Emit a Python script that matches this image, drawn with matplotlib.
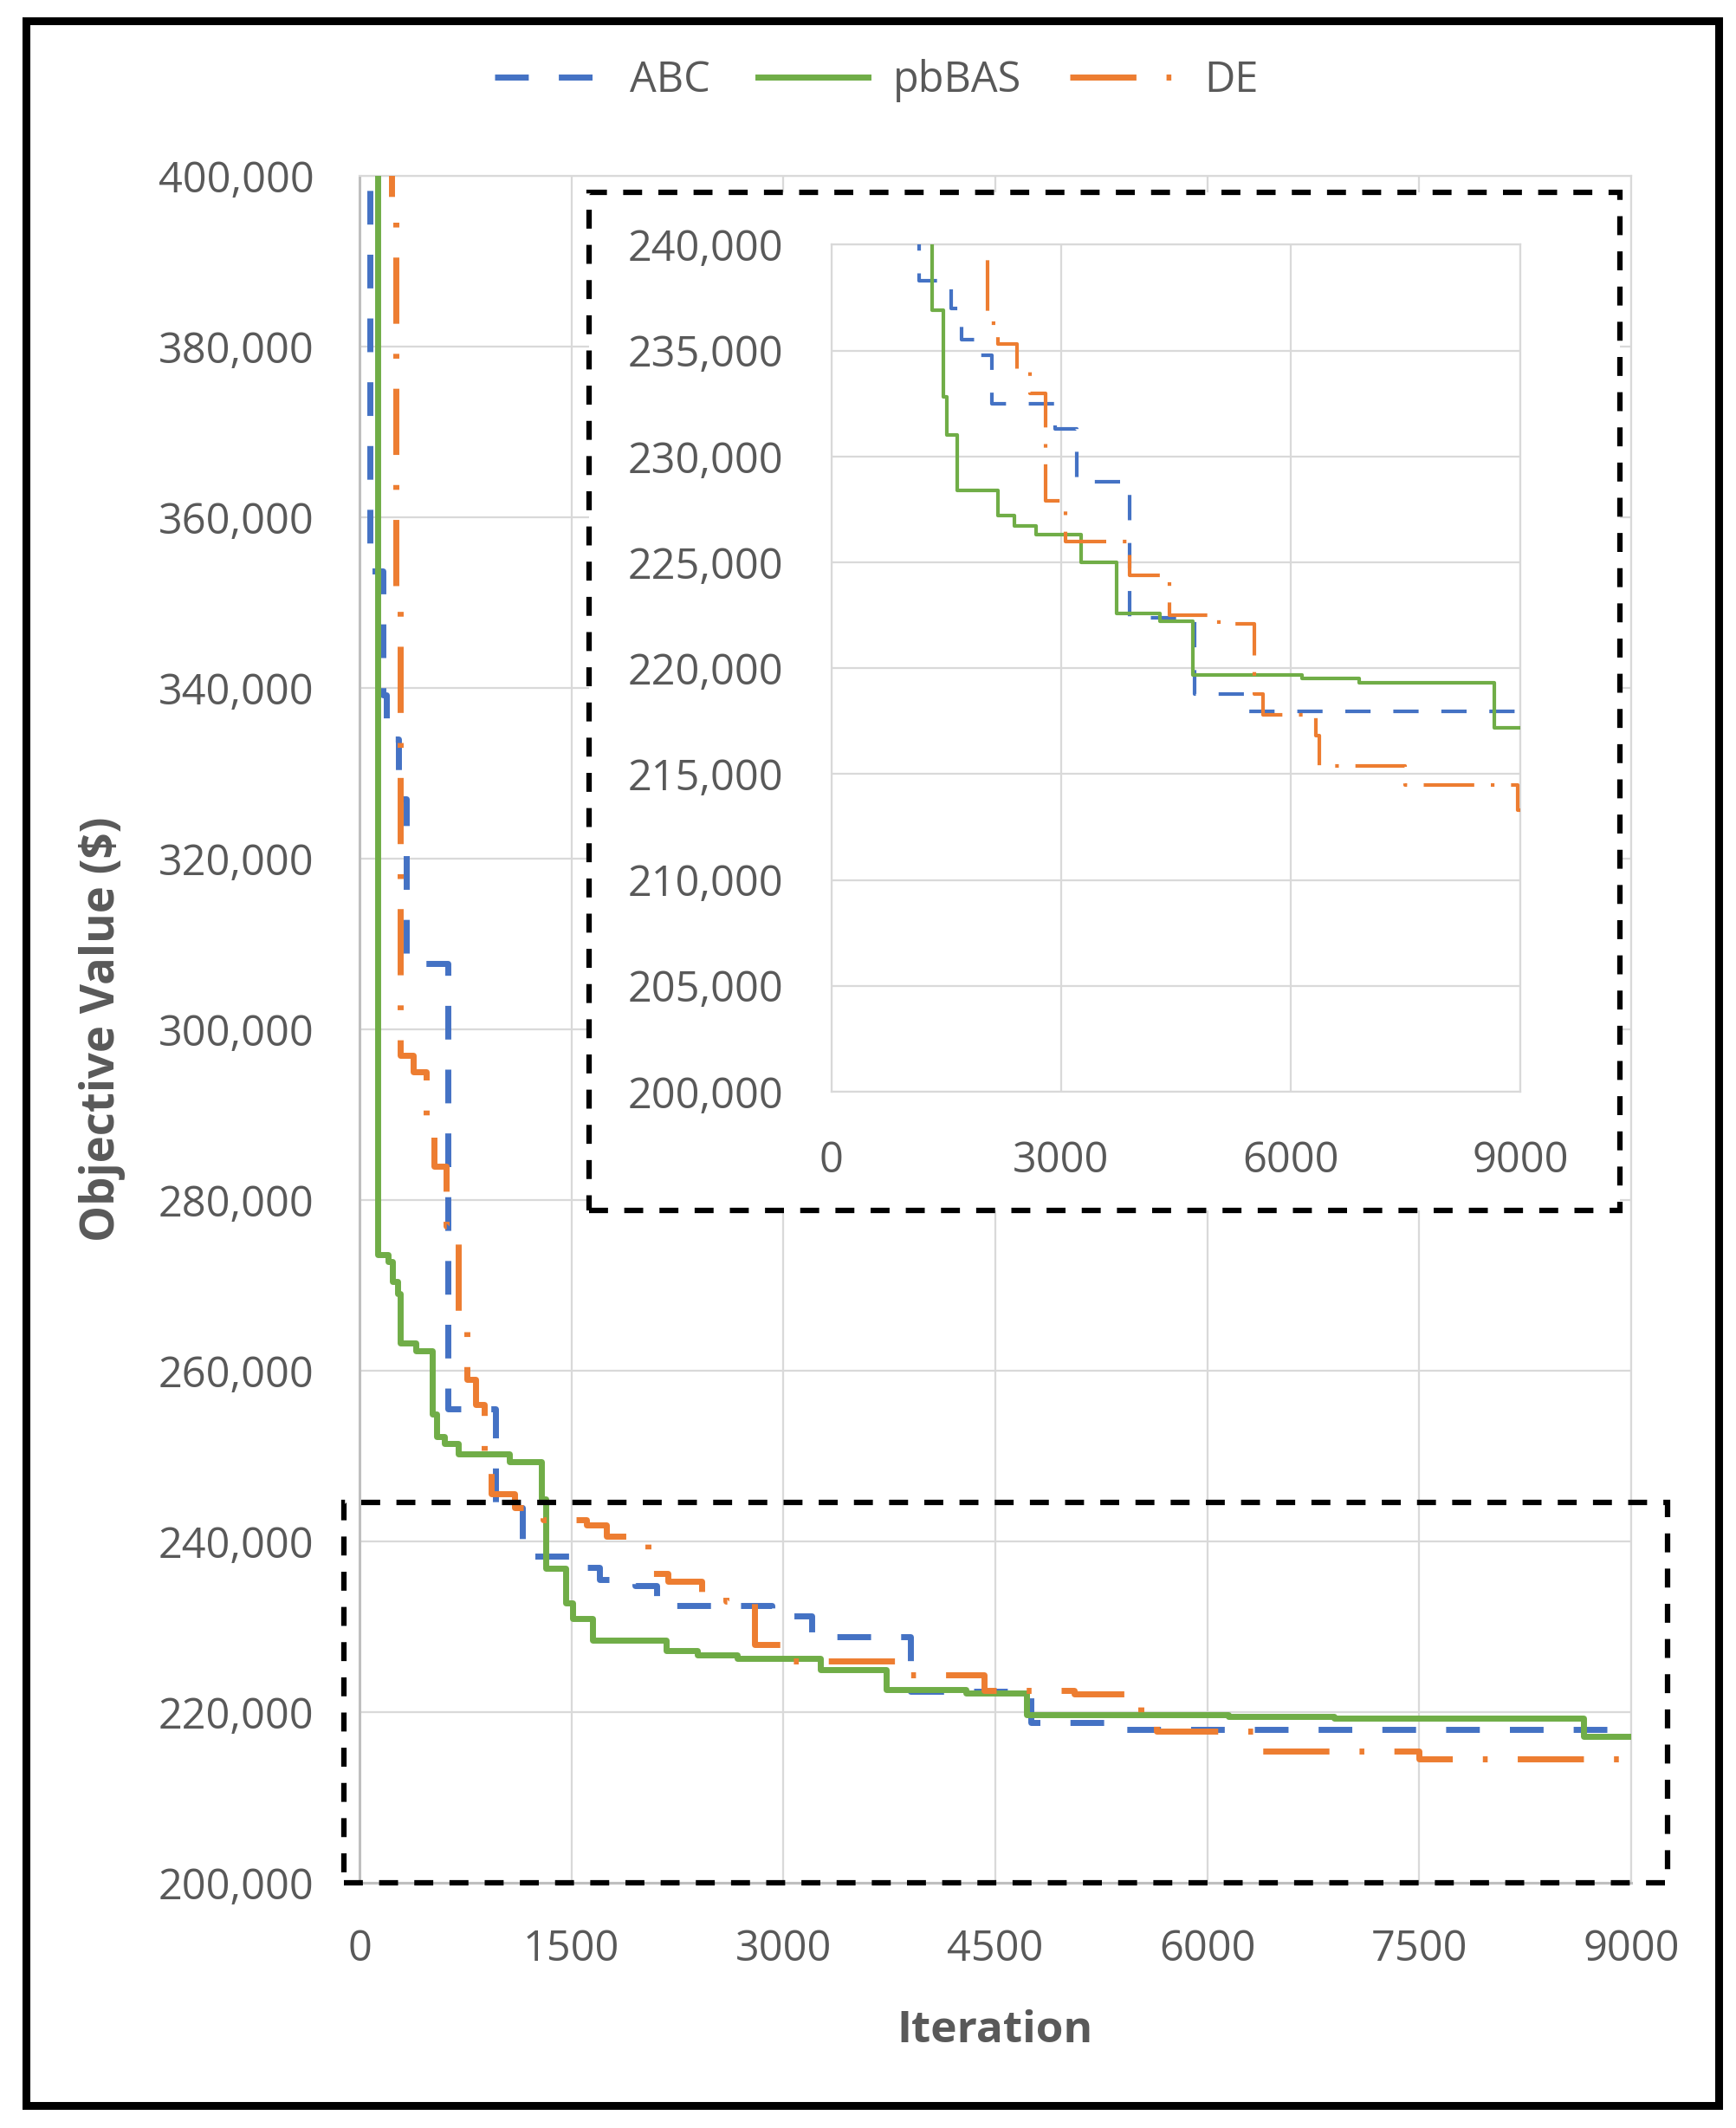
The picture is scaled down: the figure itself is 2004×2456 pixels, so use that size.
import matplotlib
matplotlib.use("Agg")
import matplotlib.pyplot as plt
from matplotlib.patches import Rectangle
from matplotlib.ticker import FuncFormatter

plt.rcParams['font.family'] = ['Open Sans', 'DejaVu Sans']

# step data (iteration where the value starts, value)
abc_iter = [0, 76, 165, 190, 275, 330, 455, 625, 960, 1150, 1560, 1700, 1950,
            2100, 2920, 3200, 3900, 4750, 5400, 9000]
abc_val = [600000, 353700, 339200, 334000, 327000, 308500, 307700, 255500,
           244000, 238300, 237000, 235500, 234800, 232500, 231300, 228800,
           222400, 218800, 217950, 217950]

pbbas_iter = [0, 130, 200, 235, 270, 285, 400, 512, 544, 600, 700, 1060, 1290,
              1317, 1462, 1509, 1648, 2170, 2391, 2670, 3260, 3725, 4294, 4720,
              6150, 6900, 8660, 9000]
pbbas_val = [560000, 273600, 272800, 270500, 269000, 263300, 262300, 254900,
             252300, 251500, 250300, 249300, 245000, 236900, 232800, 231000,
             228400, 227200, 226700, 226300, 225000, 222600, 222200, 219700,
             219500, 219300, 217200, 217200]

de_iter = [0, 225, 258, 291, 380, 470, 530, 610, 700, 760, 820, 880, 930, 1100,
           1300, 1606, 1750, 2043, 2180, 2420, 2594, 2797, 3058, 3900, 4420,
           5060, 5530, 5640, 6330, 6380, 7500, 8966, 9000]
de_val = [650000, 395000, 351000, 297000, 295000, 290000, 284000, 277000,
          266000, 259000, 256000, 250500, 245600, 244000, 242500, 241900,
          240600, 236300, 235300, 234000, 233000, 227900, 226000, 224400,
          222500, 222100, 218800, 217800, 216800, 215400, 214500, 213300,
          213300]

main_xticks = [0, 1500, 3000, 4500, 6000, 7500, 9000]
main_yticks = list(range(200000, 400001, 20000))
inset_xticks = [0, 3000, 6000, 9000]
inset_yticks = list(range(200000, 240001, 5000))

blue = '#4472C4'
green = '#70AD47'
orange = '#ED7D31'
txt = '#595959'
grid = '#D9D9D9'

fig = plt.figure(figsize=(20.04, 24.56), dpi=100)
ax = fig.add_axes([0.2071, 0.1152, 0.7325, 0.8021])

comma = FuncFormatter(lambda v, p: f'{v:,.0f}')


def draw_series(a, lw, blue_dash, de_dash):
    a.plot(abc_iter, abc_val, drawstyle='steps-post', color=blue, lw=lw,
           dashes=blue_dash, label='ABC', zorder=3)
    a.plot(pbbas_iter, pbbas_val, drawstyle='steps-post', color=green, lw=lw,
           label='pbBAS', zorder=3)
    a.plot(de_iter, de_val, drawstyle='steps-post', color=orange, lw=lw,
           dashes=de_dash, label='DE', zorder=3)


def style_axes(a, xticks, yticks, ylim, pad):
    a.set_xlim(0, 9000)
    a.set_ylim(*ylim)
    a.set_xticks(xticks)
    a.set_yticks(yticks)
    a.yaxis.set_major_formatter(comma)
    a.grid(True, color=grid, lw=1.6)
    a.set_axisbelow(True)
    a.tick_params(length=0, labelsize=35, colors=txt, pad=pad)
    for s in a.spines.values():
        s.set_color(grid)
        s.set_linewidth(1.6)


draw_series(ax, 5.0, (5.6, 5), (11, 5, 0.8, 5))
style_axes(ax, main_xticks, main_yticks, (200000, 400000), 38)
ax.spines['left'].set_color('#BFBFBF')
ax.spines['bottom'].set_color('#BFBFBF')
ax.spines['left'].set_linewidth(2.2)
ax.spines['bottom'].set_linewidth(2.2)

ax.set_xlabel('Iteration', fontsize=37, fontweight='bold', color=txt)
ax.set_ylabel('Objective Value ($)', fontsize=38, fontweight='bold', color=txt)
ax.xaxis.set_label_coords(0.5, -0.074)
ax.yaxis.set_label_coords(-0.184, 0.5)

# highlighted region and inset frame
ax.add_patch(Rectangle((-110, 200000), 9368, 44600, fill=False, ec='black',
                       lw=4.5, ls=(0, (3.5, 3)), clip_on=False, zorder=5))
ax.add_patch(Rectangle((1625, 278800), 7295, 119300, fc='white', ec='black',
                       lw=4.5, ls=(0, (3.5, 3)), clip_on=False, zorder=6))

ins = fig.add_axes([0.479, 0.487, 0.3967, 0.398])
draw_series(ins, 3.0, (7, 6.3), (14, 4.6, 1, 4.6))
style_axes(ins, inset_xticks, inset_yticks, (200000, 240000), 40)

handles, labels = ax.get_legend_handles_labels()
fig.legend(handles, labels, loc='center', bbox_to_anchor=(0.505, 0.962),
           ncol=3, frameon=False, fontsize=35, labelcolor=txt,
           handlelength=2.6, handletextpad=0.6, columnspacing=1.15)

fig.add_artist(Rectangle((0.015, 0.0106), 0.975, 0.9798, transform=fig.transFigure,
                         fill=False, ec='black', lw=6.5))

fig.savefig('out.png', dpi=100)
